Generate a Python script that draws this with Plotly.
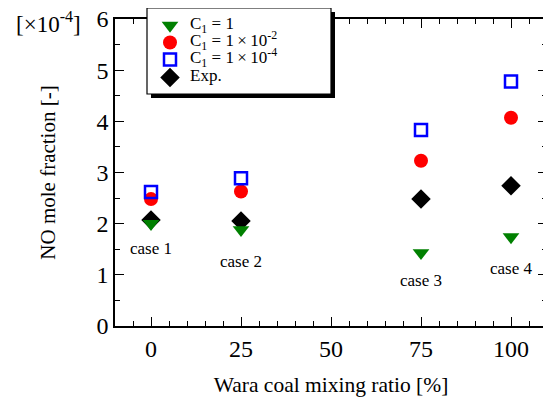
import plotly.graph_objects as go

ratio = [0, 25, 75, 100]
c1_1 = [2.00, 1.88, 1.43, 1.74]
c1_1e2 = [2.48, 2.63, 3.23, 4.07]
c1_1e4 = [2.62, 2.89, 3.83, 4.78]
exp_vals = [2.07, 2.05, 2.48, 2.74]
case_labels = ["case 1", "case 2", "case 3", "case 4"]
case_label_y = [1.52, 1.27, 0.88, 1.13]

FONT = "Liberation Serif, Times New Roman, serif"
OFF = 8  # page body margin
FW, FH = 551 - OFF, 401 - OFF
# plot area in screenshot pixels
L, R, T, B = 115, 547, 19, 326
W, H = R - L, B - T

def px(x):
    return (x - L) / W

def py(y):
    return (B - y) / H

def big(s):
    return '<span style="font-size:17px">' + s + '</span>'

TS = "\u2009×\u2009"

fig = go.Figure()
fig.add_trace(go.Scatter(x=ratio, y=exp_vals, mode="markers", name=big("Exp."), legend="legend4",
                         marker=dict(symbol="diamond", size=15, color="black")))
fig.add_trace(go.Scatter(x=ratio, y=c1_1, mode="markers", name=big("C<sub>1</sub> = 1"), legend="legend",
                         marker=dict(symbol="triangle-down", size=14.5, color="green")))
fig.add_trace(go.Scatter(x=ratio, y=c1_1e2, mode="markers", name=big("C<sub>1</sub> = 1" + TS + "10<sup>-2</sup>"), legend="legend2",
                         marker=dict(symbol="circle", size=14, color="red")))
fig.add_trace(go.Scatter(x=ratio, y=c1_1e4, mode="markers", name=big("C<sub>1</sub> = 1" + TS + "10<sup>-4</sup>"), legend="legend3",
                         marker=dict(symbol="square-open", size=12, color="blue", line=dict(width=2.5, color="blue"))))

for xv, yv, t in zip(ratio, case_label_y, case_labels):
    fig.add_annotation(x=xv, y=yv, text=t, showarrow=False, xref="x", yref="y",
                       font=dict(family=FONT, size=17, color="black"))

fig.add_annotation(x=px(48), y=py(22), xref="paper", yref="paper", xanchor="center", yanchor="middle",
                   text="[×10<sup>-4</sup>]", showarrow=False,
                   font=dict(family=FONT, size=23, color="black"))

axis_common = dict(showline=True, linecolor="black", linewidth=1.5, mirror="ticks",
                   ticks="inside", ticklen=9, tickwidth=1.2, tickcolor="black",
                   showgrid=False, zeroline=False, ticklabeloverflow="allow",
                   tickfont=dict(family=FONT, size=24, color="black"))

fig.update_xaxes(range=[-10, 110], tickvals=[0, 25, 50, 75, 100],
                 minor=dict(dtick=5, tick0=0, ticks="inside", ticklen=5, tickwidth=1.2, tickcolor="black"),
                 title=dict(text="Wara coal mixing ratio [%]", font=dict(family=FONT, size=21.5, color="black"), standoff=16),
                 **axis_common)
fig.update_yaxes(range=[0, 6], dtick=1,
                 minor=dict(dtick=0.5, ticks="inside", ticklen=5, tickwidth=1.2, tickcolor="black"),
                 title=dict(text="NO mole fraction [-]", font=dict(family=FONT, size=21, color="black"), standoff=35),
                 **axis_common)

# legend shadow and box
fig.add_shape(type="rect", xref="paper", yref="paper", layer="above",
              x0=px(151), x1=px(335), y0=py(98), y1=py(12),
              fillcolor="black", line=dict(width=0))
fig.add_shape(type="rect", xref="paper", yref="paper", layer="above",
              x0=px(147), x1=px(331), y0=py(94), y1=py(8),
              fillcolor="white", line=dict(width=1.2, color="black"))

row_y = [25.5, 42.5, 59.5, 77.5]
leg_common = dict(x=px(150), xanchor="left", yanchor="middle",
                  bgcolor="rgba(0,0,0,0)", borderwidth=0,
                  font=dict(family=FONT, size=10, color="black"), itemwidth=30)

fig.update_layout(
    width=FW, height=FH,
    margin=dict(l=L - OFF, r=551 - R, t=T - OFF, b=401 - B, autoexpand=False),
    plot_bgcolor="white", paper_bgcolor="white",
    showlegend=True,
    legend=dict(y=py(row_y[0]), **leg_common),
    legend2=dict(y=py(row_y[1]), **leg_common),
    legend3=dict(y=py(row_y[2]), **leg_common),
    legend4=dict(y=py(row_y[3]), **leg_common),
    font=dict(family=FONT, color="black"),
)

fig.write_html("out.html")
